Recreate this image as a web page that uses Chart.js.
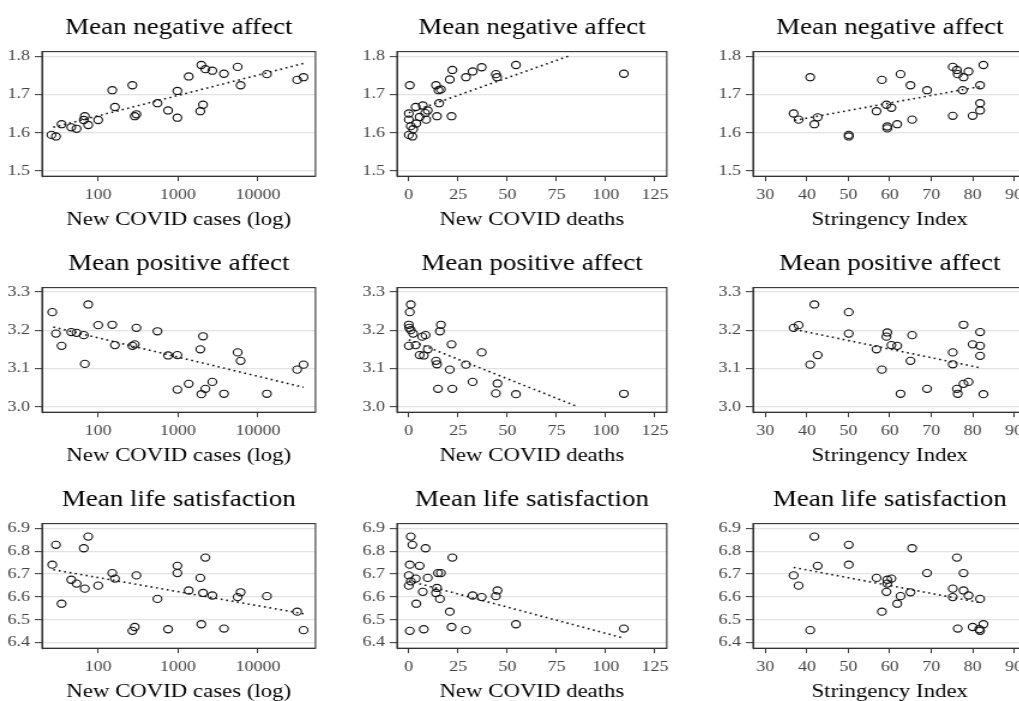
<!DOCTYPE html>
<html lang="en">
<head>
<meta charset="UTF-8">
<title>Affect vs COVID indicators</title>
<script src="https://cdn.jsdelivr.net/npm/chart.js"></script>
<style>
    html, body { margin: 0; padding: 0; background: #fff; }
    body { width: 1019px; height: 701px; overflow: hidden; position: relative; }
    /* the reference image is a bit wider than tall, so each panel is stretched */
    .panel { position: absolute; transform-origin: 0 0; transform: scaleX(1.2); }
</style>
</head>
<body>
<script>
// ---- data ----
const rowTitles = ['Mean negative affect', 'Mean positive affect', 'Mean life satisfaction'];
const colTitles = ['New COVID cases (log)', 'New COVID deaths', 'Stringency Index'];

const caseTicks = [100, 1000, 10000];
const deathTicks = [0, 25, 50, 75, 100, 125];
const stringencyTicks = [30, 40, 50, 60, 70, 80, 90];
const negTicks = [1.5, 1.6, 1.7, 1.8];
const posTicks = [3.0, 3.1, 3.2, 3.3];
const lifeTicks = [6.4, 6.5, 6.6, 6.7, 6.8, 6.9];

// negative affect
const negCasesX = [26, 29.6, 34.8, 46, 53.6, 68, 66, 75, 100, 150, 162, 268, 287, 301, 552, 750, 981, 981, 1360, 1957, 2196, 1900, 2054, 2685, 3758, 5570, 6070, 12950, 31000, 37250];
const negCasesY = [1.594, 1.590, 1.622, 1.614, 1.610, 1.643, 1.633, 1.620, 1.633, 1.711, 1.667, 1.724, 1.643, 1.648, 1.677, 1.658, 1.709, 1.639, 1.747, 1.777, 1.766, 1.656, 1.673, 1.762, 1.754, 1.772, 1.724, 1.753, 1.738, 1.745];
const negCasesTrendX = [27.4, 37250];
const negCasesTrendY = [1.614, 1.781];

const negDeathsX = [0.5, 0, 0, 0, 1, 1.8, 2.2, 3.5, 3.8, 5.5, 7.1, 8.3, 8.8, 9.6, 13.8, 14.3, 15.1, 16.3, 15.4, 20.8, 22.1, 21.7, 29, 32.4, 37, 44.2, 44.8, 54.4, 109.2];
const negDeathsY = [1.724, 1.650, 1.634, 1.594, 1.617, 1.590, 1.609, 1.667, 1.624, 1.641, 1.671, 1.651, 1.634, 1.658, 1.724, 1.643, 1.711, 1.713, 1.677, 1.739, 1.764, 1.643, 1.745, 1.760, 1.771, 1.753, 1.745, 1.777, 1.754];
const negDeathsTrendX = [0, 81];
const negDeathsTrendY = [1.652, 1.8];

const negStringX = [36.8, 38, 40.8, 41.8, 42.6, 50.1, 50.1, 56.8, 58.1, 59.2, 59.4, 59.4, 60.4, 61.8, 62.6, 65, 65.4, 69, 75.2, 75.2, 76.2, 76.4, 77.8, 77.6, 79, 80, 82.6, 81.8, 81.8, 81.8];
const negStringY = [1.650, 1.634, 1.745, 1.622, 1.640, 1.594, 1.590, 1.656, 1.738, 1.673, 1.611, 1.616, 1.665, 1.622, 1.753, 1.724, 1.634, 1.711, 1.772, 1.644, 1.764, 1.753, 1.745, 1.711, 1.760, 1.644, 1.777, 1.724, 1.677, 1.658];
const negStringTrendX = [37, 82.5];
const negStringTrendY = [1.632, 1.722];

// positive affect
const posCasesX = [26.6, 29.6, 34.8, 46, 53.6, 66, 68, 75, 100, 150, 162, 268, 287, 301, 552, 750, 981, 981, 1360, 1957, 2196, 1900, 2054, 2685, 3758, 5570, 6070, 12950, 31000, 37250];
const posCasesY = [3.247, 3.191, 3.159, 3.195, 3.193, 3.187, 3.112, 3.267, 3.213, 3.214, 3.161, 3.159, 3.163, 3.206, 3.197, 3.134, 3.135, 3.045, 3.060, 3.033, 3.047, 3.150, 3.184, 3.065, 3.034, 3.142, 3.120, 3.034, 3.097, 3.110];
const posCasesTrendX = [27.4, 37250];
const posCasesTrendY = [3.208, 3.051];

const posDeathsX = [1, 0.5, 0, 0.2, 1, 2.2, 0, 3.5, 5.5, 6.8, 8.5, 7.6, 9.6, 13.8, 14.3, 14.8, 16.3, 15.8, 21.7, 20.8, 22.1, 29, 32.4, 37, 45, 44.2, 54.4, 109.2];
const posDeathsY = [3.267, 3.247, 3.214, 3.206, 3.200, 3.191, 3.159, 3.161, 3.135, 3.183, 3.187, 3.134, 3.150, 3.120, 3.111, 3.047, 3.214, 3.197, 3.163, 3.097, 3.047, 3.110, 3.065, 3.142, 3.061, 3.035, 3.033, 3.034];
const posDeathsTrendX = [0, 86];
const posDeathsTrendY = [3.175, 3.0];

const posStringX = [36.8, 38, 40.8, 41.8, 42.6, 50.1, 50.1, 56.8, 58.1, 59.4, 59.2, 60.4, 61.8, 62.6, 65, 65.4, 69, 75.2, 75.2, 76.2, 76.4, 77.8, 77.8, 79, 80, 81.8, 81.8, 81.8, 82.6];
const posStringY = [3.206, 3.213, 3.110, 3.267, 3.135, 3.247, 3.191, 3.150, 3.097, 3.194, 3.183, 3.161, 3.159, 3.034, 3.120, 3.187, 3.047, 3.142, 3.111, 3.047, 3.034, 3.214, 3.060, 3.065, 3.163, 3.195, 3.159, 3.133, 3.033];
const posStringTrendX = [37, 82.2];
const posStringTrendY = [3.202, 3.101];

// life satisfaction
const lifeCasesX = [26.6, 29.6, 34.8, 46, 53.6, 66, 68, 75, 100, 150, 162, 268, 287, 301, 552, 750, 981, 981, 1360, 1957, 2196, 1900, 2054, 2685, 3758, 5570, 6070, 12950, 31000, 37250];
const lifeCasesY = [6.741, 6.828, 6.570, 6.675, 6.658, 6.813, 6.636, 6.864, 6.649, 6.704, 6.680, 6.451, 6.468, 6.694, 6.591, 6.458, 6.736, 6.704, 6.628, 6.480, 6.772, 6.683, 6.617, 6.606, 6.461, 6.599, 6.620, 6.603, 6.535, 6.454];
const lifeCasesTrendX = [27.4, 37250];
const lifeCasesTrendY = [6.719, 6.526];

const lifeDeathsX = [1, 1.8, 0.5, 0, 0, 1, 3.5, 3.8, 0.5, 5.5, 7.1, 7.6, 8.5, 9.6, 14.3, 13.8, 14.8, 16.3, 15.8, 20.8, 22.1, 21.7, 29, 32.4, 37, 45, 44.2, 54.4, 109.2];
const lifeDeathsY = [6.864, 6.828, 6.741, 6.694, 6.649, 6.668, 6.680, 6.570, 6.451, 6.736, 6.622, 6.458, 6.813, 6.683, 6.639, 6.617, 6.704, 6.704, 6.591, 6.535, 6.772, 6.468, 6.454, 6.606, 6.599, 6.628, 6.603, 6.480, 6.461];
const lifeDeathsTrendX = [0, 109.2];
const lifeDeathsTrendY = [6.67, 6.419];

const lifeStringX = [36.8, 38, 40.8, 41.8, 42.6, 50.1, 50.1, 56.8, 58.1, 59.4, 59.2, 59.4, 60.4, 61.8, 62.6, 65, 65.4, 69, 75.2, 75.2, 76.2, 76.4, 77.8, 77.8, 79, 80, 81.8, 81.8, 81.6, 82.6];
const lifeStringY = [6.694, 6.649, 6.454, 6.864, 6.736, 6.828, 6.741, 6.683, 6.535, 6.675, 6.622, 6.658, 6.680, 6.570, 6.603, 6.620, 6.813, 6.704, 6.636, 6.599, 6.772, 6.461, 6.704, 6.628, 6.606, 6.468, 6.591, 6.451, 6.458, 6.480];
const lifeStringTrendX = [36.8, 82];
const lifeStringTrendY = [6.729, 6.574];

// ---- layout ----
const SERIF = "'Liberation Serif', 'DejaVu Serif', serif";
const colLeft = [0, 355, 711];
const rowTop = [0, 236, 472];

const xAxes = [
    { type: 'logarithmic', min: 19.8, max: 52600, ticks: caseTicks },
    { type: 'linear', min: -6, max: 131, ticks: deathTicks },
    { type: 'linear', min: 27, max: 93, ticks: stringencyTicks }
];
const yAxes = [
    { min: 1.486, max: 1.812, ticks: negTicks },
    { min: 2.986, max: 3.311, ticks: posTicks },
    { min: 6.375, max: 6.921, ticks: lifeTicks }
];

const panels = [
    { row: 0, col: 0, x: negCasesX, y: negCasesY, tx: negCasesTrendX, ty: negCasesTrendY },
    { row: 0, col: 1, x: negDeathsX, y: negDeathsY, tx: negDeathsTrendX, ty: negDeathsTrendY },
    { row: 0, col: 2, x: negStringX, y: negStringY, tx: negStringTrendX, ty: negStringTrendY },
    { row: 1, col: 0, x: posCasesX, y: posCasesY, tx: posCasesTrendX, ty: posCasesTrendY },
    { row: 1, col: 1, x: posDeathsX, y: posDeathsY, tx: posDeathsTrendX, ty: posDeathsTrendY },
    { row: 1, col: 2, x: posStringX, y: posStringY, tx: posStringTrendX, ty: posStringTrendY },
    { row: 2, col: 0, x: lifeCasesX, y: lifeCasesY, tx: lifeCasesTrendX, ty: lifeCasesTrendY },
    { row: 2, col: 1, x: lifeDeathsX, y: lifeDeathsY, tx: lifeDeathsTrendX, ty: lifeDeathsTrendY },
    { row: 2, col: 2, x: lifeStringX, y: lifeStringY, tx: lifeStringTrendX, ty: lifeStringTrendY }
];

// box around each plot area (ggplot panel border)
const panelBorder = {
    id: 'panelBorder',
    afterDraw(chart) {
        const { ctx, chartArea: a } = chart;
        ctx.save();
        ctx.strokeStyle = '#333';
        ctx.lineWidth = 1.1;
        ctx.strokeRect(a.left, a.top, a.right - a.left, a.bottom - a.top);
        ctx.restore();
    }
};

function toPoints(xs, ys) {
    return xs.map((v, i) => ({ x: v, y: ys[i] }));
}

function makeChart(p) {
    const wrap = document.createElement('div');
    wrap.className = 'panel';
    wrap.style.left = colLeft[p.col] + 'px';
    wrap.style.top = rowTop[p.row] + 'px';
    const canvas = document.createElement('canvas');
    canvas.width = 268;
    canvas.height = 236;
    wrap.appendChild(canvas);
    document.body.appendChild(wrap);

    const xc = xAxes[p.col];
    const yc = yAxes[p.row];

    new Chart(canvas, {
        type: 'scatter',
        data: {
            datasets: [
                {
                    data: toPoints(p.x, p.y),
                    pointRadius: 3.6,
                    pointBorderWidth: 1.1,
                    pointBorderColor: '#111',
                    pointBackgroundColor: 'rgba(0,0,0,0)'
                },
                {
                    data: toPoints(p.tx, p.ty),
                    showLine: true,
                    pointRadius: 0,
                    borderColor: '#111',
                    borderWidth: 1.6,
                    borderDash: [1.6, 3]
                }
            ]
        },
        options: {
            responsive: false,
            animation: false,
            events: [],
            layout: { padding: { left: 0, right: 4, top: 0, bottom: 0 } },
            plugins: {
                legend: { display: false },
                tooltip: { enabled: false },
                title: {
                    display: true,
                    text: rowTitles[p.row],
                    fullSize: false,
                    color: '#000',
                    font: { family: SERIF, size: 22.5, weight: 'normal', lineHeight: 1.2 },
                    padding: { top: 14.5, bottom: 10.1 }
                }
            },
            scales: {
                x: {
                    type: xc.type,
                    min: xc.min,
                    max: xc.max,
                    afterBuildTicks: s => { s.ticks = xc.ticks.map(v => ({ value: v })); },
                    ticks: {
                        color: '#444',
                        font: { family: SERIF, size: 15, lineHeight: 1 },
                        padding: 6.4,
                        maxRotation: 0,
                        autoSkip: false,
                        callback: v => String(v)
                    },
                    grid: { drawOnChartArea: false, drawTicks: true, tickLength: 5, tickColor: '#333', tickWidth: 1 },
                    border: { display: true, color: '#333', width: 1 },
                    title: {
                        display: true,
                        text: colTitles[p.col],
                        color: '#000',
                        font: { family: SERIF, size: 19, lineHeight: 1 },
                        padding: { top: 2, bottom: 6 }
                    }
                },
                y: {
                    min: yc.min,
                    max: yc.max,
                    afterBuildTicks: s => { s.ticks = yc.ticks.map(v => ({ value: v })); },
                    afterFit: s => { s.width = 35; },
                    ticks: {
                        color: '#444',
                        font: { family: SERIF, size: 15, lineHeight: 1 },
                        padding: 4,
                        callback: v => Number(v).toFixed(1)
                    },
                    grid: { color: '#e3e3e3', lineWidth: 1.3, tickLength: 6, tickColor: '#333', tickWidth: 1 },
                    border: { display: true, color: '#333', width: 1 }
                }
            }
        },
        plugins: [panelBorder]
    });
}

panels.forEach(makeChart);
</script>
</body>
</html>
